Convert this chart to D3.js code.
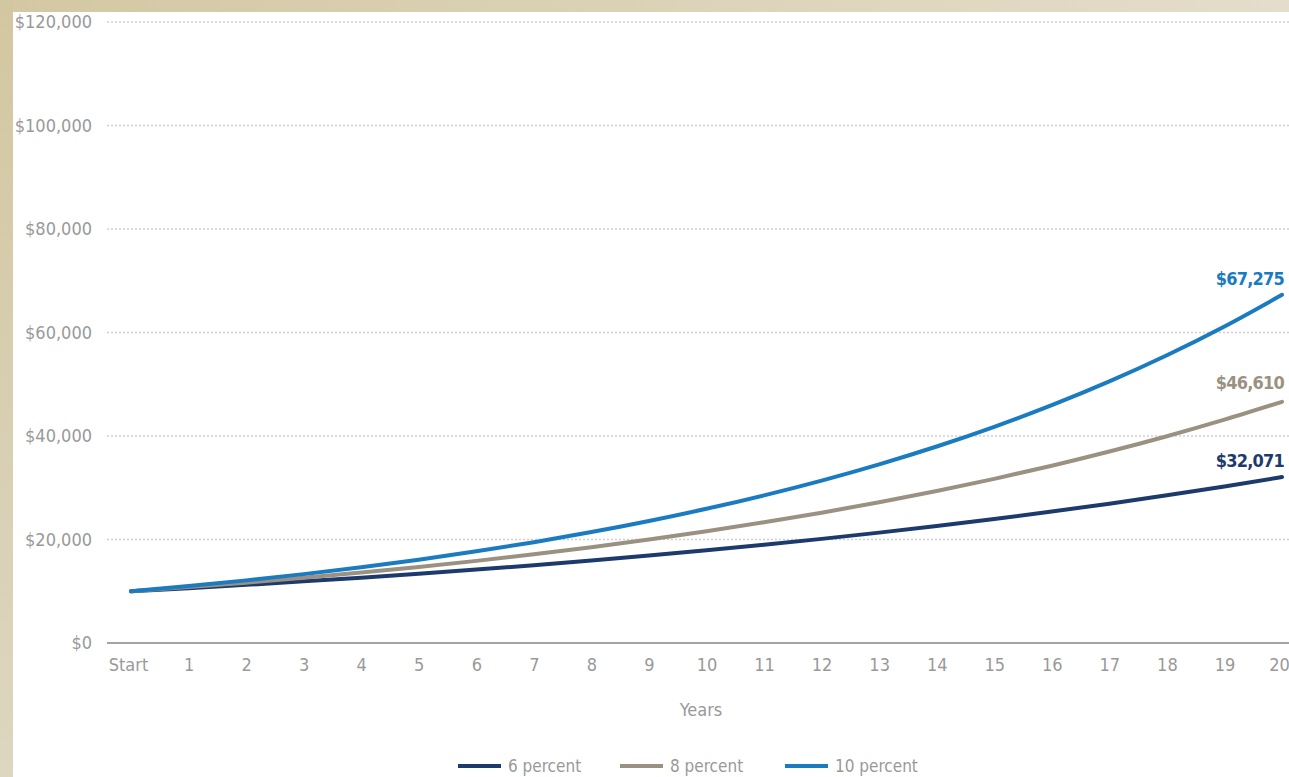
<!DOCTYPE html>
<html>
<head>
<meta charset="utf-8">
<script src="https://cdn.jsdelivr.net/npm/d3@7"></script>
<style>
  html, body { margin: 0; padding: 0; background: #fff; }
  svg { display: block; }
  .lbl { font-family: "Liberation Sans Narrow", "DejaVu Sans Condensed", "Arial Narrow", sans-serif; }
</style>
</head>
<body>
<svg id="chart" width="1289" height="777"></svg>
<script>
// Growth of $10,000 over 20 years at three annual rates of return
const years = d3.range(0, 21);
const xTickLabels = ["Start", "1", "2", "3", "4", "5", "6", "7", "8", "9", "10",
  "11", "12", "13", "14", "15", "16", "17", "18", "19", "20"];
const yTicks = [0, 20000, 40000, 60000, 80000, 100000, 120000];

const sixPercent = [10000, 10600, 11236, 11910, 12625, 13382, 14185, 15036, 15938, 16895,
  17908, 18983, 20122, 21329, 22609, 23966, 25404, 26928, 28543, 30256, 32071];
const eightPercent = [10000, 10800, 11664, 12597, 13605, 14693, 15869, 17138, 18509, 19990,
  21589, 23316, 25182, 27196, 29372, 31722, 34259, 37000, 39960, 43157, 46610];
const tenPercent = [10000, 11000, 12100, 13310, 14641, 16105, 17716, 19487, 21436, 23579,
  25937, 28531, 31384, 34523, 37975, 41772, 45950, 50545, 55599, 61159, 67275];

const seriesNames = ["6 percent", "8 percent", "10 percent"];
const seriesColors = ["#1d3a6c", "#9b9182", "#1b7bc0"];
const seriesValues = [sixPercent, eightPercent, tenPercent];

const svg = d3.select("#chart");
const W = 1289, H = 777;

// page frame: beige band along the top and left edges
const defs = svg.append("defs");
const topGrad = defs.append("linearGradient").attr("id", "topBand").attr("x1", 0).attr("x2", 1).attr("y1", 0).attr("y2", 0);
topGrad.append("stop").attr("offset", 0).attr("stop-color", "#d3c8a2");
topGrad.append("stop").attr("offset", 1).attr("stop-color", "#e4ddcb");
const leftGrad = defs.append("linearGradient").attr("id", "leftBand").attr("x1", 0).attr("x2", 0).attr("y1", 0).attr("y2", 1);
leftGrad.append("stop").attr("offset", 0).attr("stop-color", "#d2c7a0");
leftGrad.append("stop").attr("offset", 1).attr("stop-color", "#ddd6c0");

svg.append("rect").attr("x", 0).attr("y", 0).attr("width", W).attr("height", 12).attr("fill", "url(#topBand)");
svg.append("rect").attr("x", 0).attr("y", 0).attr("width", 13).attr("height", H).attr("fill", "url(#leftBand)");

const x = d3.scaleLinear().domain([0, 20]).range([131, 1282]);
const y = d3.scaleLinear().domain([0, 120000]).range([643, 22]);

// horizontal gridlines (dotted) and baseline (solid)
svg.append("g").selectAll("line")
  .data(yTicks)
  .join("line")
  .attr("x1", 107).attr("x2", W)
  .attr("y1", d => y(d)).attr("y2", d => y(d))
  .attr("stroke", d => d === 0 ? "#a3a3a3" : "#cfcfcf")
  .attr("stroke-width", d => d === 0 ? 2 : 1.4)
  .attr("stroke-dasharray", d => d === 0 ? null : "2,2");

// y-axis labels
const fmt = d3.format("$,");
svg.append("g").selectAll("text")
  .data(yTicks)
  .join("text")
  .attr("class", "lbl")
  .attr("x", 92)
  .attr("y", d => y(d))
  .attr("dy", "0.35em")
  .attr("text-anchor", "end")
  .attr("font-size", 18)
  .attr("fill", "#999999")
  .text(d => fmt(d));

// x-axis labels
const xAxis = d3.axisBottom(x)
  .tickValues(years)
  .tickFormat(d => xTickLabels[d])
  .tickSize(0)
  .tickPadding(15);
const xg = svg.append("g").attr("transform", `translate(0,${y(0)})`).call(xAxis);
xg.select(".domain").remove();
xg.selectAll("text")
  .attr("class", "lbl")
  .attr("font-size", 18)
  .attr("fill", "#999999")
  .attr("font-family", null);
xg.selectAll(".tick").filter(d => d === 0).select("text").attr("dx", -3);
xg.selectAll(".tick").filter(d => d === 20).select("text").attr("dx", -3);

svg.append("text")
  .attr("class", "lbl")
  .attr("x", 701).attr("y", 716)
  .attr("text-anchor", "middle")
  .attr("font-size", 18)
  .attr("fill", "#999999")
  .text("Years");

// growth curves
const line = d3.line().x((d, i) => x(years[i])).y(d => y(d)).curve(d3.curveMonotoneX);
svg.append("g").selectAll("path")
  .data(seriesValues)
  .join("path")
  .attr("d", d => line(d))
  .attr("fill", "none")
  .attr("stroke", (d, i) => seriesColors[i])
  .attr("stroke-width", 4)
  .attr("stroke-linecap", "round");

// ending-value labels
const labelOffsets = [-10, -13, -10];
svg.append("g").selectAll("text")
  .data(seriesValues)
  .join("text")
  .attr("class", "lbl")
  .attr("x", 1284)
  .attr("y", (d, i) => y(d[d.length - 1]) + labelOffsets[i])
  .attr("text-anchor", "end")
  .attr("font-size", 18)
  .attr("font-weight", "bold")
  .attr("letter-spacing", -0.8)
  .attr("fill", (d, i) => seriesColors[i])
  .text(d => fmt(d[d.length - 1]));

// legend
const legendX = [458, 620, 785];
const lg = svg.append("g").selectAll("g")
  .data(seriesNames)
  .join("g")
  .attr("transform", (d, i) => `translate(${legendX[i]},766)`);
lg.append("line")
  .attr("x1", 0).attr("x2", 43)
  .attr("stroke", (d, i) => seriesColors[i])
  .attr("stroke-width", 4);
lg.append("text")
  .attr("class", "lbl")
  .attr("x", 50)
  .attr("y", 0)
  .attr("dy", "0.34em")
  .attr("font-size", 17)
  .attr("fill", "#999999")
  .text(d => d);
</script>
</body>
</html>
